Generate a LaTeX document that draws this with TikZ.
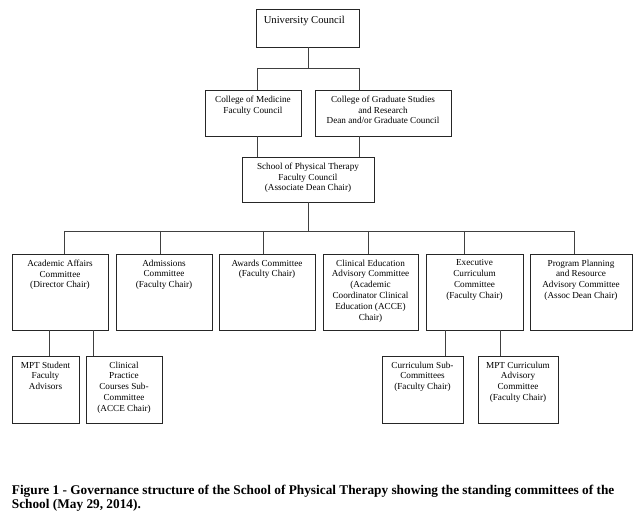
\documentclass[tikz,border=0pt]{standalone}
\usepackage{fontspec}
\setmainfont{Liberation Serif}
\usetikzlibrary{positioning}

\begin{document}
\begin{tikzpicture}[x=1pt, y=-1pt,
  box/.style={draw=black!85, line width=0.8pt, inner sep=0pt},
  txt/.style={inner sep=0pt, align=center, font=\fontsize{9.2}{10.8}\selectfont},
  link/.style={draw=black!75, line width=0.8pt}]
\useasboundingbox (0,0) rectangle (636,518);

% top levels
\node[box, minimum width=103, minimum height=38] (uc) at (307.5,28) {};
\node[inner sep=0pt, font=\fontsize{10.6}{12}\selectfont, anchor=north west]
  (uc-t) at ([shift={(8,7.5)}]uc.north west) {University Council};
\node[box, minimum width=96, minimum height=46] (com) at (253,113) {};
\node[box, minimum width=136, minimum height=46] (cgs) at (383,113) {};
\node[box, minimum width=132, minimum height=45] (spt) at (308,179.5) {};
\node[txt, below=6pt of com.north] (com-t) {College of Medicine\\Faculty Council};
\node[txt, below=6pt of cgs.north] (cgs-t) {College of Graduate Studies\\and Research\\Dean and/or Graduate Council};
\node[txt, below=6pt of spt.north] (spt-t) {School of Physical Therapy\\Faculty Council\\(Associate Dean Chair)};

% standing committees
\node[box, minimum width=96, minimum height=76] (aa) at (60,292) {};
\node[box, minimum width=96, minimum height=76] (adm) at (164,292) {};
\node[box, minimum width=96, minimum height=76] (awd) at (267,292) {};
\node[box, minimum width=95, minimum height=76] (ced) at (370.5,292) {};
\node[box, minimum width=97, minimum height=76] (exc) at (474.5,292) {};
\node[box, minimum width=102, minimum height=76] (ppr) at (581,292) {};
\node[txt, below=6pt of aa.north] (aa-t) {Academic Affairs\\Committee\\(Director Chair)};
\node[txt, below=6pt of adm.north] (adm-t) {Admissions\\Committee\\(Faculty Chair)};
\node[txt, below=6pt of awd.north] (awd-t) {Awards Committee\\(Faculty Chair)};
\node[txt, below=6pt of ced.north] (ced-t) {Clinical Education\\Advisory Committee\\(Academic\\Coordinator Clinical\\Education (ACCE)\\Chair)};
\node[txt, below=6pt of exc.north] (exc-t) {Executive\\Curriculum\\Committee\\(Faculty Chair)};
\node[txt, below=6pt of ppr.north] (ppr-t) {Program Planning\\and Resource\\Advisory Committee\\(Assoc Dean Chair)};

% sub-committees
\node[box, minimum width=67, minimum height=67] (mps) at (45.5,389.5) {};
\node[box, minimum width=76, minimum height=67] (cpc) at (124,389.5) {};
\node[box, minimum width=81, minimum height=67] (csc) at (422.5,389.5) {};
\node[box, minimum width=80, minimum height=67] (mpc) at (518,389.5) {};
\node[txt, below=6pt of mps.north] (mps-t) {MPT Student\\Faculty\\Advisors};
\node[txt, below=6pt of cpc.north] (cpc-t) {Clinical\\Practice\\Courses Sub-\\Committee\\(ACCE Chair)};
\node[txt, below=6pt of csc.north] (csc-t) {Curriculum Sub-\\Committees\\(Faculty Chair)};
\node[txt, below=6pt of mpc.north] (mpc-t) {MPT Curriculum\\Advisory\\Committee\\(Faculty Chair)};

% junctions
\coordinate (j1) at (308,68);
\coordinate (j1a) at (257,68);
\coordinate (j1b) at (359,68);
\coordinate (j2) at (308,231);
\foreach \n/\x in {aa/64, adm/160, awd/263, ced/368, exc/464, ppr/574}
  \coordinate (t-\n) at (\x,231);
\coordinate (s-mps) at (49,0);
\coordinate (s-cpc) at (93,0);
\coordinate (s-csc) at (445,0);
\coordinate (s-mpc) at (500,0);

\begin{scope}[link]
\draw (uc.south -| j1) -- (j1);
\draw (j1a) -- (j1b);
\draw (j1a) -- (j1a |- com.north);
\draw (j1b) -- (j1b |- cgs.north);
\draw (com.south -| j1a) -- (j1a |- spt.north);
\draw (cgs.south -| j1b) -- (j1b |- spt.north);
\draw (spt.south -| j2) -- (j2);
\draw (t-aa) -- (t-ppr);
\foreach \n in {aa, adm, awd, ced, exc, ppr}
  \draw (t-\n) -- (t-\n |- \n.north);
\draw (aa.south -| s-mps) -- (s-mps |- mps.north);
\draw (aa.south -| s-cpc) -- (s-cpc |- cpc.north);
\draw (exc.south -| s-csc) -- (s-csc |- csc.north);
\draw (exc.south -| s-mpc) -- (s-mpc |- mpc.north);
\end{scope}

% caption
\node[inner sep=0pt, anchor=north west, align=left,
  font=\fontsize{13.3}{14}\selectfont\bfseries] (cap) at (11.7,485)
  {Figure 1 - Governance structure of the School of Physical Therapy showing the standing committees of the\\School (May 29, 2014).};
\end{tikzpicture}
\end{document}
